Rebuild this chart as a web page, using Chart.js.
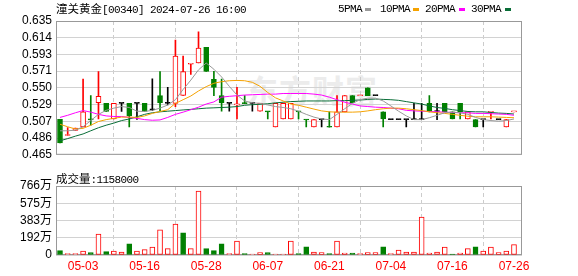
<!DOCTYPE html>
<html>
<head>
<meta charset="utf-8">
<script src="https://cdn.jsdelivr.net/npm/chart.js@4/dist/chart.umd.min.js"></script>
<style>
  html, body { margin: 0; padding: 0; background: #fff; }
  #wrap { position: relative; width: 578px; height: 276px; overflow: hidden; }
  .cjk { font-family: "Noto Sans CJK SC", sans-serif; font-size: 11.5px; }
  .mono { font-family: "Liberation Mono", monospace; font-size: 11px; letter-spacing: -0.6px; }
  .txt { position: absolute; white-space: nowrap; line-height: 16px; color: #000; }
  .sw { position: absolute; top: 8px; width: 6px; height: 3px; }
  #watermark { position: absolute; left: 246px; top: 66px; font-family: "Noto Sans CJK SC", sans-serif;
               font-size: 32px; font-weight: bold; color: #ececec; letter-spacing: 1px; }
  canvas { position: absolute; left: 0; }
  #priceChart { top: 0; }
  #volumeChart { top: 170px; }
</style>
</head>
<body>
<div id="wrap">
  <div id="watermark">东方财富</div>
  <canvas id="priceChart" width="578" height="166"></canvas>
  <canvas id="volumeChart" width="578" height="106"></canvas>

  <div class="txt" style="left:56px; top:0px;"><span class="cjk">潼关黄金</span><span class="mono">[00340] 2024-07-26 16:00</span></div>

  <div class="txt mono" style="left:338px; top:1px;">5PMA</div>
  <div class="sw" style="left:365px; background:#999999;"></div>
  <div class="txt mono" style="left:380px; top:1px;">10PMA</div>
  <div class="sw" style="left:413px; background:#f5a200;"></div>
  <div class="txt mono" style="left:425px; top:1px;">20PMA</div>
  <div class="sw" style="left:459px; background:#ff00ff;"></div>
  <div class="txt mono" style="left:471px; top:1px;">30PMA</div>
  <div class="sw" style="left:505px; background:#0a6e38;"></div>

  <div class="txt" style="left:56px; top:170px;"><span class="cjk">成交量</span><span class="mono">:1158000</span></div>
</div>

<script>
// daily candles, 60 trading days up to 2024-07-26
const opens = [0.510,0.4895,0.4959,0.5003,0.5100,0.5311,0.5303,0.5106,0.5303,0.5303,
               0.5303,0.5303,0.5220,0.5402,0.5303,0.5303,0.5406,0.5800,0.5817,0.6014,
               0.5610,0.5402,0.5303,0.5285,0.5310,0.5303,0.5204,0.5200,0.5003,0.5106,
               0.5106,0.5200,0.5097,0.5003,0.5097,0.5005,0.5003,0.5196,0.5402,0.5400,
               0.5500,0.5402,0.5196,0.5097,0.5097,0.5097,0.5097,0.5097,0.5303,0.5200,
               0.5303,0.5196,0.5303,0.5106,0.5097,0.5097,0.5190,0.5097,0.5003,0.5195];
const highs = [0.510,0.4995,0.4990,0.5611,0.5402,0.5706,0.5303,0.5303,0.5303,0.5303,
               0.5303,0.5303,0.5615,0.5706,0.5508,0.6109,0.5903,0.5809,0.6212,0.6014,
               0.5710,0.5611,0.5303,0.5508,0.5402,0.5303,0.5303,0.5200,0.5303,0.5303,
               0.5303,0.5200,0.5097,0.5097,0.5097,0.5196,0.5402,0.5402,0.5402,0.5402,
               0.5500,0.5402,0.5196,0.5097,0.5097,0.5097,0.5303,0.5303,0.5402,0.5303,
               0.5303,0.5196,0.5303,0.5196,0.5097,0.5097,0.5196,0.5097,0.5097,0.5196];
const lows = [0.480,0.4895,0.4959,0.5003,0.5027,0.5106,0.5200,0.5106,0.5200,0.5003,
              0.5101,0.5200,0.5210,0.5200,0.5283,0.5263,0.5406,0.5670,0.5817,0.5710,
              0.5402,0.5204,0.5204,0.5106,0.5300,0.5204,0.5204,0.5106,0.5003,0.5106,
              0.5106,0.5106,0.5003,0.5003,0.5003,0.5000,0.5003,0.5196,0.5311,0.5400,
              0.5402,0.5402,0.5003,0.5097,0.5097,0.5003,0.5097,0.5097,0.5196,0.5097,
              0.5196,0.5106,0.5106,0.5106,0.5003,0.5003,0.5106,0.5097,0.5003,0.5195];
const closes = [0.480,0.4903,0.4990,0.5197,0.5093,0.5394,0.5200,0.5303,0.5303,0.5145,
                0.5303,0.5200,0.5220,0.5311,0.5303,0.5903,0.5706,0.5809,0.6006,0.5710,
                0.5505,0.5311,0.5303,0.5290,0.5300,0.5303,0.5303,0.5195,0.5303,0.5303,
                0.5303,0.5195,0.5092,0.5097,0.5097,0.5000,0.5196,0.5402,0.5311,0.5402,
                0.5402,0.5402,0.5106,0.5097,0.5097,0.5097,0.5097,0.5097,0.5196,0.5200,
                0.5196,0.5106,0.5196,0.5196,0.5003,0.5097,0.5196,0.5097,0.5097,0.5196];

// moving averages as shown on the chart
const ma5 = [0.4955,0.4955,0.4963,0.5006,0.5085,0.5164,0.5215,0.5243,0.5263,0.5251,
             0.5204,0.5200,0.5215,0.5243,0.5283,0.5350,0.5480,0.5599,0.5729,0.5816,
             0.5737,0.5639,0.5520,0.5409,0.5334,0.5310,0.5303,0.5283,0.5263,0.5251,
             0.5235,0.5204,0.5164,0.5129,0.5105,0.5097,0.5164,0.5235,0.5303,0.5350,
             0.5370,0.5370,0.5334,0.5271,0.5204,0.5144,0.5097,0.5097,0.5121,0.5152,
             0.5184,0.5192,0.5184,0.5164,0.5125,0.5097,0.5085,0.5077,0.5085,0.5105];
const ma10 = [0.5038,0.5006,0.4978,0.4986,0.5026,0.5073,0.5097,0.5113,0.5129,0.5129,
              0.5125,0.5144,0.5176,0.5200,0.5223,0.5303,0.5350,0.5397,0.5461,0.5516,
              0.5559,0.5579,0.5591,0.5595,0.5591,0.5571,0.5520,0.5441,0.5374,0.5334,
              0.5295,0.5279,0.5255,0.5231,0.5208,0.5196,0.5192,0.5192,0.5192,0.5196,
              0.5208,0.5223,0.5235,0.5243,0.5243,0.5235,0.5223,0.5212,0.5196,0.5184,
              0.5176,0.5164,0.5152,0.5140,0.5133,0.5133,0.5133,0.5129,0.5125,0.5121];
const ma20 = [0.5125,0.5152,0.5184,0.5212,0.5192,0.5164,0.5144,0.5137,0.5137,0.5125,
              0.5113,0.5097,0.5089,0.5093,0.5125,0.5164,0.5192,0.5223,0.5255,0.5295,
              0.5322,0.5382,0.5393,0.5401,0.5409,0.5413,0.5417,0.5421,0.5421,0.5429,
              0.5429,0.5429,0.5429,0.5421,0.5409,0.5382,0.5350,0.5318,0.5295,0.5271,
              0.5263,0.5255,0.5251,0.5243,0.5235,0.5215,0.5208,0.5204,0.5200,0.5196,
              0.5192,0.5188,0.5184,0.5184,0.5176,0.5176,0.5172,0.5168,0.5164,0.5152];
const ma30 = [0.4828,0.4856,0.4887,0.4915,0.4955,0.4994,0.5026,0.5053,0.5085,0.5105,
              0.5133,0.5164,0.5184,0.5196,0.5204,0.5212,0.5220,0.5227,0.5235,0.5243,
              0.5247,0.5251,0.5255,0.5263,0.5279,0.5287,0.5291,0.5299,0.5310,0.5318,
              0.5326,0.5330,0.5334,0.5334,0.5334,0.5334,0.5338,0.5338,0.5342,0.5346,
              0.5354,0.5358,0.5354,0.5350,0.5342,0.5326,0.5310,0.5295,0.5271,0.5251,
              0.5239,0.5223,0.5212,0.5200,0.5196,0.5196,0.5188,0.5180,0.5176,0.5168];

// volume and its direction vs previous close (1 up, -1 down)
const volumes = [480000,150000,150000,440000,260000,2320000,370000,440000,330000,1250000,
                 440000,590000,880000,2800000,700000,3430000,2470000,700000,7100000,700000,
                 480000,1250000,150000,1550000,150000,110000,260000,260000,110000,110000,
                 1550000,150000,920000,330000,260000,150000,1550000,220000,220000,150000,
                 260000,260000,920000,150000,550000,330000,330000,4200000,220000,330000,
                 880000,110000,220000,700000,920000,440000,880000,260000,440000,1158000];
const volDir = [-1,1,1,1,-1,1,-1,1,1,-1,
                1,1,1,1,1,1,-1,1,1,-1,
                -1,-1,1,1,-1,1,1,-1,1,1,
                1,-1,-1,1,1,-1,1,1,-1,1,
                1,1,-1,1,1,1,1,1,1,1,
                1,-1,1,1,-1,1,1,1,1,1];

// axis ticks
const dateTickIdx = [3, 11, 19, 27, 35, 43, 51, 59];
const dateTickLabels = ['05-03', '05-16', '05-28', '06-07', '06-21', '07-04', '07-16', '07-26'];
const priceTicks = [0.465, 0.48625, 0.5075, 0.52875, 0.55, 0.57125, 0.5925, 0.61375, 0.635];
const priceTickLabels = ['0.465', '0.486', '0.507', '0.529', '0.550', '0.571', '0.593', '0.614', '0.635'];
const volTicks = [0, 1915000, 3830000, 5745000, 7660000];
const volTickLabels = ['0', '192万', '383万', '575万', '766万'];

const RED = '#ff0000';
const GREEN = '#008000';
const BLACK = '#000000';
const X_MIN = -0.52;
const X_MAX = 60.04;

function candleColor(i) {
    if (closes[i] > opens[i]) return RED;
    if (closes[i] < opens[i]) return GREEN;
    return BLACK;
}

function maLine(label, values, color) {
    return {
        type: 'line',
        label: label,
        data: values.map((v, i) => ({ x: i, y: v })),
        borderColor: color,
        borderWidth: 1,
        pointRadius: 0,
        tension: 0,
        order: 0
    };
}

// draws the grey box round each plot area
const framePlugin = {
    id: 'frame',
    beforeDatasetsDraw(chart) {
        const a = chart.chartArea;
        const ctx = chart.ctx;
        ctx.save();
        ctx.strokeStyle = '#999999';
        ctx.lineWidth = 1;
        ctx.strokeRect(a.left + 0.5, a.top + 0.5, a.right - a.left - 1, a.bottom - a.top - 1);
        ctx.restore();
    }
};

const tickFont = { family: '"Liberation Sans", Arial, "Noto Sans CJK SC", sans-serif', size: 12 };

function xAxis(showLabels, height) {
    return {
        type: 'linear',
        min: X_MIN,
        max: X_MAX,
        offset: false,
        afterBuildTicks: s => { s.ticks = dateTickIdx.map(v => ({ value: v })); },
        afterFit: s => { s.height = height; },
        ticks: {
            display: showLabels,
            autoSkip: false,
            maxRotation: 0,
            padding: 4,
            color: RED,
            font: tickFont,
            callback: (v, i) => dateTickLabels[i]
        },
        grid: { color: '#cccccc', drawTicks: false },
        border: { display: false, dash: [4, 3] }
    };
}

function yAxis(min, max, ticks, labels) {
    return {
        min: min,
        max: max,
        afterBuildTicks: s => { s.ticks = ticks.map(v => ({ value: v })); },
        afterFit: s => { s.width = 56; },
        ticks: {
            autoSkip: false,
            padding: 4,
            color: '#000',
            font: tickFont,
            callback: (v, i) => labels[i]
        },
        grid: { color: '#d2d2d2', drawTicks: false },
        border: { display: false }
    };
}

Chart.defaults.animation = false;

new Chart(document.getElementById('priceChart'), {
    type: 'bar',
    data: {
        datasets: [
            maLine('5PMA', ma5, '#999999'),
            maLine('10PMA', ma10, '#f5a200'),
            maLine('20PMA', ma20, '#ff00ff'),
            maLine('30PMA', ma30, '#0a6e38'),
            {
                label: 'body',
                data: opens.map((o, i) => ({ x: i, y: [o, closes[i]] })),
                backgroundColor: ctx => candleColor(ctx.dataIndex) === RED ? '#ffffff' : candleColor(ctx.dataIndex),
                borderColor: ctx => candleColor(ctx.dataIndex),
                borderWidth: 1,
                borderSkipped: false,
                barThickness: 5,
                minBarLength: 1,
                grouped: false,
                order: 1
            },
            {
                label: 'wick',
                data: lows.map((l, i) => ({ x: i, y: [l, highs[i]] })),
                backgroundColor: ctx => candleColor(ctx.dataIndex),
                borderWidth: 0,
                barThickness: 1,
                grouped: false,
                order: 2
            }
        ]
    },
    options: {
        responsive: false,
        animation: false,
        layout: { padding: { top: 21, right: 56, left: 0, bottom: 0 } },
        plugins: { legend: { display: false }, tooltip: { enabled: false } },
        scales: {
            x: xAxis(false, 1),
            y: yAxis(0.465, 0.635, priceTicks, priceTickLabels)
        }
    },
    plugins: [framePlugin]
});

new Chart(document.getElementById('volumeChart'), {
    type: 'bar',
    data: {
        datasets: [{
            label: 'volume',
            data: volumes.map((v, i) => ({ x: i, y: v })),
            backgroundColor: ctx => volDir[ctx.dataIndex] < 0 ? GREEN : '#ffffff',
            borderColor: ctx => volDir[ctx.dataIndex] < 0 ? GREEN : RED,
            borderWidth: 1,
            borderSkipped: false,
            barThickness: 5,
            grouped: false
        }]
    },
    options: {
        responsive: false,
        animation: false,
        layout: { padding: { top: 16, right: 56, left: 0, bottom: 0 } },
        plugins: { legend: { display: false }, tooltip: { enabled: false } },
        scales: {
            x: xAxis(true, 21),
            y: yAxis(0, 7660000, volTicks, volTickLabels)
        }
    },
    plugins: [framePlugin]
});
</script>
</body>
</html>
